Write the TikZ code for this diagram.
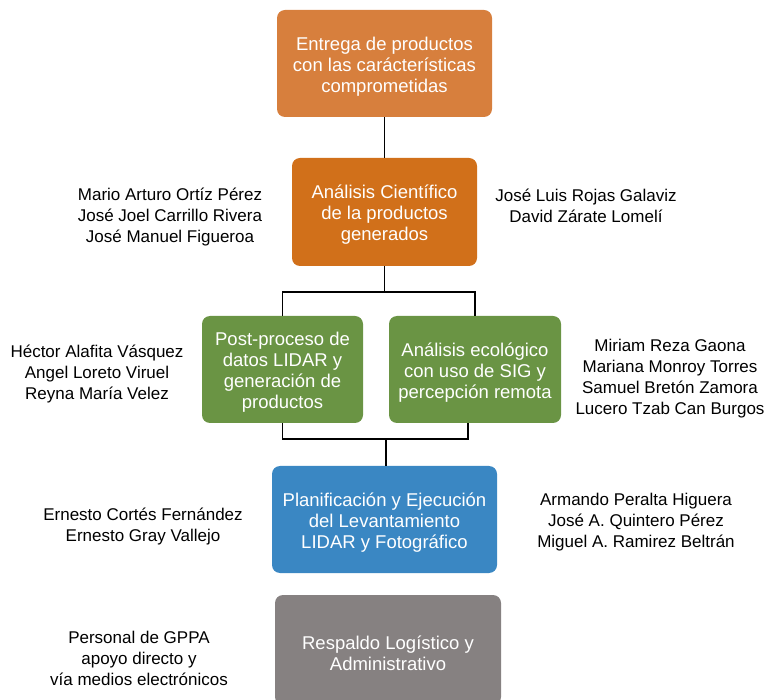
\documentclass[tikz,border=0pt]{standalone}
\usepackage{fontspec}
\setmainfont{Liberation Sans}
\usepackage{tikz}

\definecolor{naranjaclaro}{HTML}{D77F3D}
\definecolor{naranja}{HTML}{D1701A}
\definecolor{verde}{HTML}{6A9444}
\definecolor{azul}{HTML}{3A87C3}
\definecolor{gris}{HTML}{868181}

% primera linea un poco mas alta, para bajar el texto en las cajas
\newcommand{\arranque}{\rule{0pt}{1.05em}}

\begin{document}
\begin{tikzpicture}[x=1pt,y=-1pt,
        caja/.style={rounded corners=8pt, text=white, align=center, inner sep=0pt,
            minimum height=107pt, font=\fontsize{18.5}{21}\selectfont},
        nombres/.style={align=center, font=\fontsize{17}{21}\selectfont},
        enlace/.style={line width=1.5pt}]
        \useasboundingbox (0,0) rectangle (766,700);
        % cajas de la cadena de trabajo
        \node[caja, fill=naranjaclaro, minimum width=215pt] (entrega) at (384.5,63.5) {\arranque Entrega de productos\\con las carácterísticas\\comprometidas};
        \node[caja, fill=naranja, minimum width=185pt, minimum height=108pt] (analisis) at (384.5,212) {\arranque Análisis Científico\\de la productos\\generados};
        \node[caja, fill=verde, minimum width=161pt] (postproceso) at (282.5,369.5) {\arranque Post-proceso de\\datos LIDAR y\\generación de\\productos};
        \node[caja, fill=verde, minimum width=172pt] (ecologico) at (475,369.5) {\arranque Análisis ecológico\\con uso de SIG y\\percepción remota};
        \node[caja, fill=azul, minimum width=225pt] (planificacion) at (384.5,519.5) {\arranque Planificación y Ejecución\\del Levantamiento\\LIDAR y Fotográfico};
        \node[caja, fill=gris, minimum width=226pt, minimum height=110pt] (respaldo) at (388,650) {\arranque Respaldo Logístico y\\Administrativo};
        % responsables de cada etapa
        \node[nombres] (nomA) at (170,217) {Mario Arturo Ortíz Pérez\\José Joel Carrillo Rivera\\José Manuel Figueroa};
        \node[nombres] (nomB) at (586,206) {José Luis Rojas Galaviz\\David Zárate Lomelí};
        \node[nombres] (nomC) at (97,374) {Héctor Alafita Vásquez\\Angel Loreto Viruel\\Reyna María Velez};
        \node[nombres] (nomD) at (670,379) {Miriam Reza Gaona\\Mariana Monroy Torres\\Samuel Bretón Zamora\\Lucero Tzab Can Burgos};
        \node[nombres] (nomE) at (143,527) {Ernesto Cortés Fernández\\Ernesto Gray Vallejo};
        \node[nombres] (nomF) at (636,522) {Armando Peralta Higuera\\José A. Quintero Pérez\\Miguel A. Ramirez Beltrán};
        \node[nombres] (nomG) at (139,658) {Personal de GPPA\\apoyo directo y\\vía medios electrónicos};
        % conexiones
        \coordinate (ramal) at (384.5,292);
        \coordinate (union) at (386,439);
        \draw[enlace] (entrega) -- (analisis);
        \draw[enlace] (analisis) -- (ramal);
        \draw[enlace] (postproceso.north) |- (ramal) -| (ecologico.north);
        \draw[enlace] (postproceso.south) |- (union) -| ([xshift=-7pt]ecologico.south);
        \draw[enlace] (union) -- (union |- planificacion.north);
    \end{tikzpicture}
\end{document}
